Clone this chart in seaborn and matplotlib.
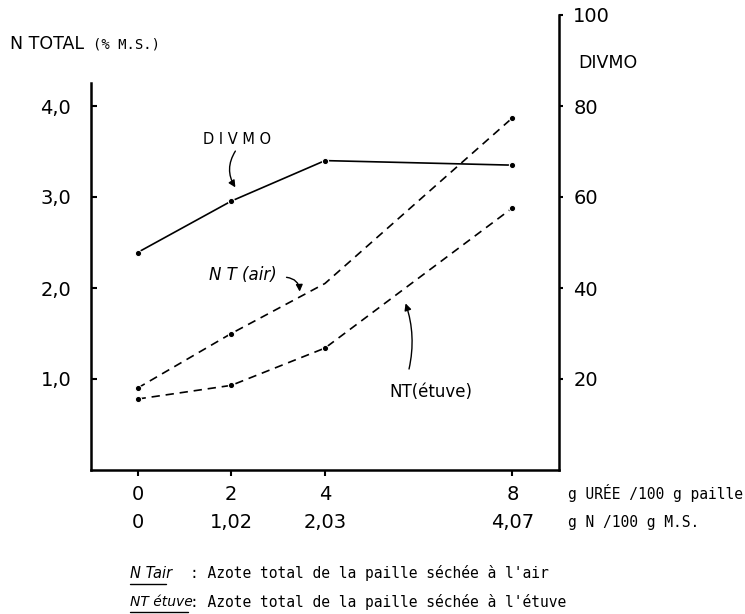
import matplotlib
matplotlib.use("Agg")
import matplotlib.pyplot as plt
import matplotlib.transforms as mtransforms
from matplotlib.lines import Line2D
import pandas as pd
import seaborn as sns

# Data
uree = [0, 2, 4, 8]                       # g uree / 100 g paille
n_ajoute = ["0", "1,02", "2,03", "4,07"]  # g N / 100 g M.S.
nt_air = [0.90, 1.50, 2.05, 3.87]
nt_etuve = [0.78, 0.93, 1.34, 2.88]
divmo = [47.8, 59.1, 68.0, 67.0]
left_ticks = [1, 2, 3, 4]
left_labels = ["1,0", "2,0", "3,0", "4,0"]
right_ticks = [20, 40, 60, 80, 100]

df = pd.DataFrame({"uree": uree, "nt_air": nt_air, "nt_etuve": nt_etuve, "divmo": divmo})

sns.set_style("ticks")
plt.rcParams["font.family"] = ["DejaVu Sans"]
plt.rcParams.update({"text.color": "black", "axes.edgecolor": "black",
                     "xtick.color": "black", "ytick.color": "black",
                     "axes.labelcolor": "black"})
mono = "DejaVu Sans Mono"
cond = "DejaVu Sans"

W, H = 745, 614
fig = plt.figure(figsize=(W / 100, H / 100), dpi=100)
ax = fig.add_axes([90.7 / W, 144 / H, (559.3 - 90.7) / W, 455 / H])
ax2 = ax.twinx()

# N total curves (left axis)
sns.lineplot(data=df, x="uree", y="nt_air", ax=ax, color="black", linewidth=1.2,
             linestyle=(0, (5, 3.5)), marker="o", markersize=4.5, markevery=[0, 1, 3])
sns.lineplot(data=df, x="uree", y="nt_etuve", ax=ax, color="black", linewidth=1.2,
             linestyle=(0, (5, 3.5)), marker="o", markersize=4.5)
# DIVMO (right axis)
sns.lineplot(data=df, x="uree", y="divmo", ax=ax2, color="black", linewidth=1.2,
             marker="o", markersize=4.5)

ax.set_xlim(-1, 9)
ax.set_ylim(0, 5)
ax2.set_ylim(0, 100)
ax.set_xlabel("")
ax.set_ylabel("")
ax2.set_ylabel("")

# spines
for s in ["top", "right"]:
    ax.spines[s].set_visible(False)
for s in ["top", "left", "bottom"]:
    ax2.spines[s].set_visible(False)
ax.spines["left"].set_bounds(0, 4.25)
ax2.spines["right"].set_bounds(0, 100)
for sp in [ax.spines["left"], ax.spines["bottom"], ax2.spines["right"]]:
    sp.set_linewidth(1.8)

# ticks
ax.set_yticks(left_ticks)
ax.set_yticklabels(left_labels, family=cond, fontsize=14)
ax.tick_params(axis="y", direction="in", length=4, width=1.5, pad=14)
ax2.set_yticks(right_ticks)
ax2.set_yticklabels([str(t) for t in right_ticks], family=cond, fontsize=14)
ax2.tick_params(axis="y", direction="out", length=3, width=1.5, pad=7)
ax.set_xticks(uree)
ax.set_xticklabels([str(u) for u in uree], family=cond, fontsize=14)
ax.tick_params(axis="x", direction="out", length=4, width=1.5, pad=7)

# second row of x labels
trans = mtransforms.blended_transform_factory(ax.transData, fig.transFigure)
for u, lab in zip(uree, n_ajoute):
    ax.text(u, 1 - 523 / H, lab, transform=trans, ha="center", va="center",
            family=cond, fontsize=14)

# annotations
ax.text(2.12, 3.63, "D I V M O", ha="center", va="center", fontsize=10.5)
ax.annotate("", xy=(2.12, 3.08), xytext=(2.12, 3.53),
            arrowprops=dict(arrowstyle="-|>", color="black", lw=1.0,
                            connectionstyle="arc3,rad=0.35", mutation_scale=10))
ax.text(2.25, 2.14, "N T (air)", ha="center", va="center", fontsize=12, style="italic")
ax.annotate("", xy=(3.46, 1.93), xytext=(3.12, 2.12),
            arrowprops=dict(arrowstyle="-|>", color="black", lw=1.0,
                            connectionstyle="arc3,rad=-0.5", mutation_scale=10))
ax.text(6.27, 0.86, "NT(étuve)", ha="center", va="center", fontsize=12)
ax.annotate("", xy=(5.70, 1.86), xytext=(5.78, 1.08),
            arrowprops=dict(arrowstyle="-|>", color="black", lw=1.0,
                            connectionstyle="arc3,rad=0.15", mutation_scale=10))

# axis titles
fig.text(10 / W, 1 - 44 / H, "N TOTAL", family=cond, fontsize=12.5, va="center", ha="left")
fig.text(93 / W, 1 - 44 / H, "(% M.S.)", family=mono, fontsize=10, va="center", ha="left")
fig.text(608 / W, 1 - 63 / H, "DIVMO", family=cond, fontsize=12.5, va="center", ha="center")
fig.text(568 / W, 1 - 493 / H, "g URÉE /100 g paille", family=mono, fontsize=10.5,
         va="center", ha="left")
fig.text(568 / W, 1 - 523 / H, "g N /100 g M.S.", family=mono, fontsize=10.5,
         va="center", ha="left")

# footnotes
fig.text(130 / W, 1 - 573 / H, "N Tair", family=cond, fontsize=10.5, va="center", style="italic")
fig.text(190 / W, 1 - 573 / H, ": Azote total de la paille séchée à l'air",
         family=mono, fontsize=10.5, va="center")
fig.text(130 / W, 1 - 602 / H, "NT étuve", family=cond, fontsize=10, va="center", style="italic")
fig.text(190 / W, 1 - 602 / H, ": Azote total de la paille séchée à l'étuve",
         family=mono, fontsize=10.5, va="center")
fig.add_artist(Line2D([130 / W, 166 / W], [1 - 584 / H, 1 - 584 / H], color="black", lw=1))
fig.add_artist(Line2D([130 / W, 188 / W], [1 - 612 / H, 1 - 612 / H], color="black", lw=1))

fig.savefig("out.png", dpi=100)
